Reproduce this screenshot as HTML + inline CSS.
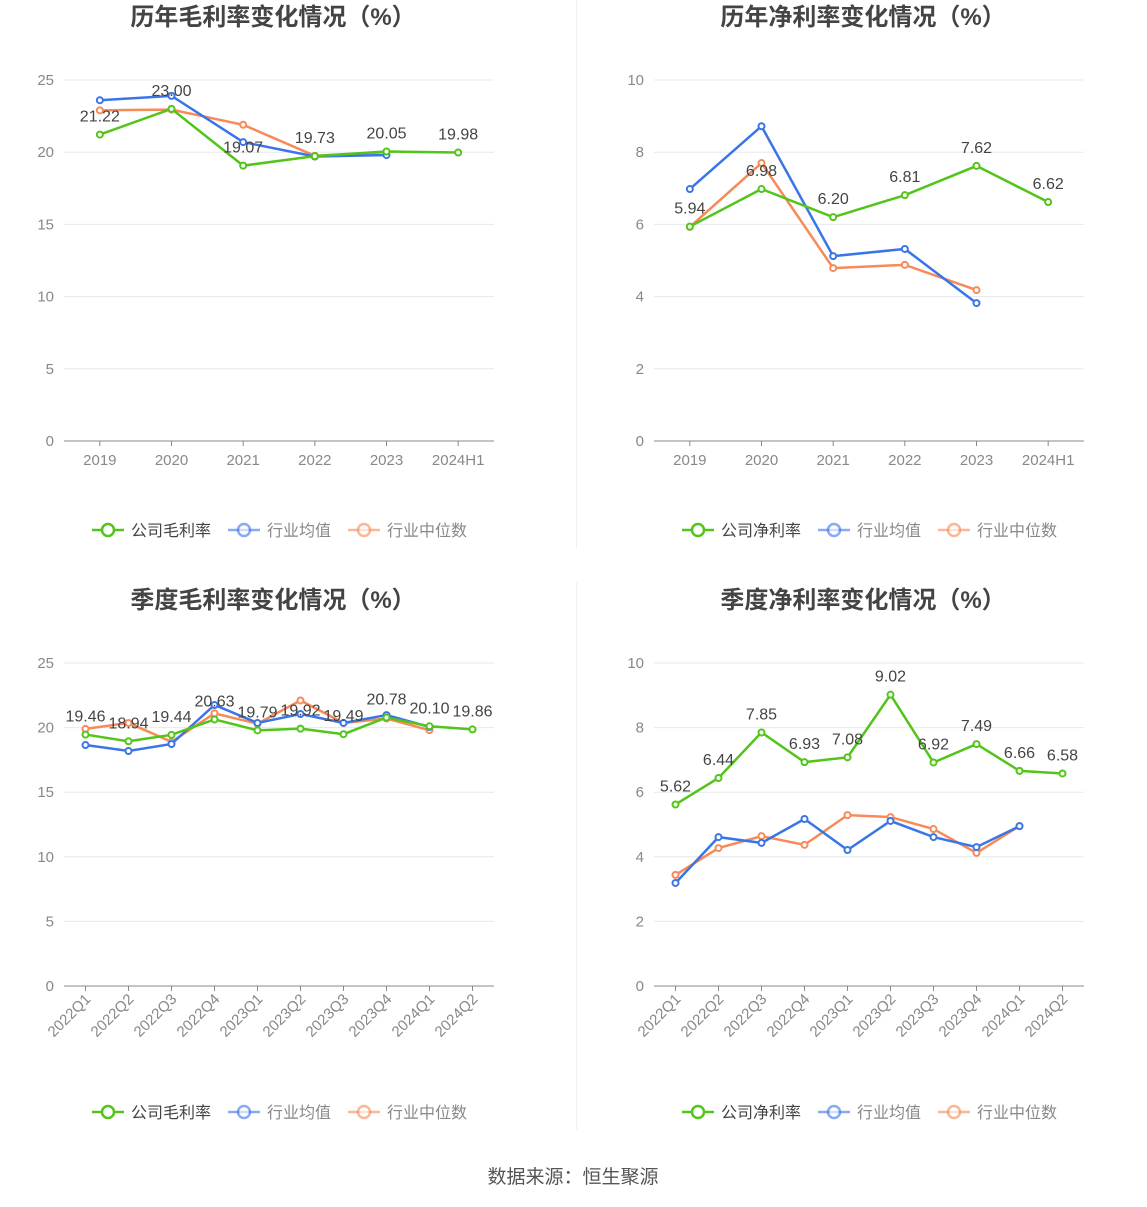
<!DOCTYPE html>
<html><head><meta charset="utf-8"><style>
body{margin:0;background:#fff;font-family:"Liberation Sans","Noto Sans CJK SC",sans-serif;}
svg text{font-family:"Liberation Sans","Noto Sans CJK SC",sans-serif;}
</style></head><body>
<svg id="s" width="1147" height="1202" xmlns="http://www.w3.org/2000/svg">
<line x1="576.5" y1="0" x2="576.5" y2="548" stroke="#eef0f4"/>
<line x1="576.5" y1="582" x2="576.5" y2="1130" stroke="#eef0f4"/>
<text x="573" y="1183" text-anchor="middle" font-size="19" fill="#555">数据来源：恒生聚源</text>
</svg>
<script>
const yearCats=["2019","2020","2021","2022","2023","2024H1"];
const quarterCats=["2022Q1","2022Q2","2022Q3","2022Q4","2023Q1","2023Q2","2023Q3","2023Q4","2024Q1","2024Q2"];
const gmCompany=[21.22,23.00,19.07,19.73,20.05,19.98];
const gmAvg=[23.6,23.9,20.7,19.7,19.8,null];
const gmMed=[22.9,22.95,21.9,19.75,20.0,null];
const nmCompany=[5.94,6.98,6.20,6.81,7.62,6.62];
const nmAvg=[6.98,8.72,5.12,5.32,3.82,null];
const nmMed=[5.93,7.70,4.79,4.88,4.18,null];
const qgmCompany=[19.46,18.94,19.44,20.63,19.79,19.92,19.49,20.78,20.10,19.86];
const qgmAvg=[18.65,18.19,18.73,21.75,20.36,21.05,20.36,20.97,20.05,null];
const qgmMed=[19.9,20.36,18.9,21.1,20.3,22.1,20.36,20.7,19.8,null];
const qnmCompany=[5.62,6.44,7.85,6.93,7.08,9.02,6.92,7.49,6.66,6.58];
const qnmAvg=[3.19,4.61,4.43,5.17,4.21,5.11,4.61,4.30,4.95,null];
const qnmMed=[3.44,4.27,4.64,4.37,5.29,5.23,4.86,4.12,4.95,null];
const gmTicks=[0,5,10,15,20,25];
const nmTicks=[0,2,4,6,8,10];

const NS="http://www.w3.org/2000/svg";
const svg=document.getElementById('s');
function el(tag,attrs,parent,txt){const e=document.createElementNS(NS,tag);for(const k in attrs)e.setAttribute(k,attrs[k]);if(txt!==undefined)e.textContent=txt;(parent||svg).appendChild(e);return e;}
const GREEN="#52c41a",BLUE="#3a75e8",ORANGE="#f78a57";

function chart(o){
  const g=el('g',{});
  
  
  const t=el('text',{x:o.cx,y:o.titleY,'text-anchor':'middle','font-size':24,'font-weight':'bold',fill:'#444'},g,o.title);
  
  
  const x0=o.x0,x1=o.x0+430,y0=o.top+o.h,y1=o.top;
  const max=o.ticks[o.ticks.length-1];
  const ys=v=>y0-(v/max)*(y0-y1);
  const bw=(x1-x0)/o.cats.length;
  const xs=i=>x0+bw*(i+0.5);
  o.ticks.forEach(tk=>{
    const y=ys(tk);
    if(tk>0){const l=el('line',{x1:x0,x2:x1,y1:y,y2:y,stroke:'#e6e8f0'},g);
    
    }
    const tl=el('text',{x:x0-10,y:y+5,'text-anchor':'end','font-size':15,fill:'#888'},g,String(tk));
    
    
  });
  const ax=el('line',{x1:x0,x2:x1,y1:y0,y2:y0,stroke:'#888'},g);
  
  
  o.cats.forEach((c,i)=>{
    el('line',{x1:xs(i),x2:xs(i),y1:y0,y2:y0+5,stroke:'#888'},g);
    let lb;
    if(o.rot){lb=el('text',{x:xs(i)+6,y:y0+14,'text-anchor':'end','font-size':15,fill:'#888',transform:`rotate(-45 ${xs(i)+6} ${y0+14})`},g,c);}
    else lb=el('text',{x:xs(i),y:y0+24,'text-anchor':'middle','font-size':15,fill:'#888'},g,c);
    
    
  });
  const series=[[o.med,ORANGE,'industry-median-line'],[o.avg,BLUE,'industry-average-line'],[o.comp,GREEN,'company-line']];
  series.forEach(([d,c,n])=>{
    let p='';d.forEach((v,i)=>{if(v!=null)p+=(p?'L':'M')+xs(i)+' '+ys(v);});
    const pl=el('path',{d:p,fill:'none',stroke:c,'stroke-width':2.5},g);
    
    
    d.forEach((v,i)=>{if(v==null)return;
      const pt=el('circle',{cx:xs(i),cy:ys(v),r:3,fill:'#fff',stroke:c,'stroke-width':2},g);
      
      });
  });
  o.comp.forEach((v,i)=>{
    const lb=el('text',{x:xs(i),y:ys(v)-13,'text-anchor':'middle','font-size':16,fill:'#444'},g,v.toFixed(2));
    
    
  });
  const ly=o.legY;
  const items=[[o.compName,GREEN,o.cx-181,'#444'],['行业均值',BLUE,o.cx-45,'#888'],['行业中位数',ORANGE,o.cx+75,'#888']];
  items.forEach(([n,c,lx,tc])=>{
    const lg=el('g',{},g);
    
    
    const op=c===GREEN?1:0.6;
    el('line',{x1:lx,x2:lx+32,y1:ly,y2:ly,stroke:c,'stroke-width':2.5,opacity:op},lg);
    el('circle',{cx:lx+16,cy:ly,r:6,fill:'#fff',stroke:c,'stroke-width':2.5,opacity:op},lg);
    el('text',{x:lx+39,y:ly+6,'font-size':16,fill:tc},lg,n);
  });
}
chart({name:'annual-gross-margin-chart',title:'历年毛利率变化情况（%）',cx:273,titleY:25,x0:64,top:80,h:361,cats:yearCats,ticks:gmTicks,comp:gmCompany,avg:gmAvg,med:gmMed,compName:'公司毛利率',legY:530});
chart({name:'annual-net-margin-chart',title:'历年净利率变化情况（%）',cx:863,titleY:25,x0:654,top:80,h:361,cats:yearCats,ticks:nmTicks,comp:nmCompany,avg:nmAvg,med:nmMed,compName:'公司净利率',legY:530});
chart({name:'quarterly-gross-margin-chart',title:'季度毛利率变化情况（%）',cx:273,titleY:608,x0:64,top:663,h:323,cats:quarterCats,ticks:gmTicks,comp:qgmCompany,avg:qgmAvg,med:qgmMed,compName:'公司毛利率',legY:1112,rot:true});
chart({name:'quarterly-net-margin-chart',title:'季度净利率变化情况（%）',cx:863,titleY:608,x0:654,top:663,h:323,cats:quarterCats,ticks:nmTicks,comp:qnmCompany,avg:qnmAvg,med:qnmMed,compName:'公司净利率',legY:1112,rot:true});
</script>
</body></html>
